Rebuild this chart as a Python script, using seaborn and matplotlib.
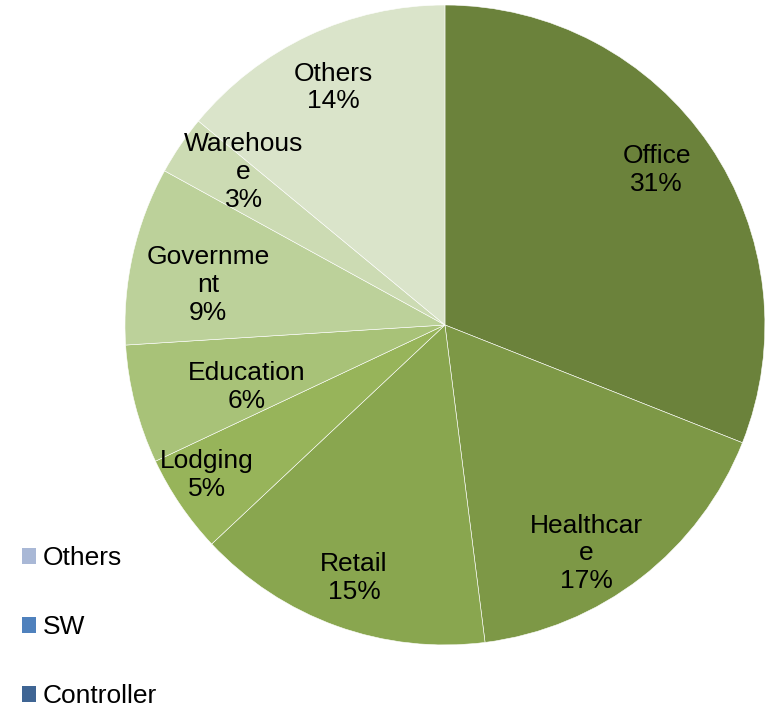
import numpy as np
import matplotlib
matplotlib.use("Agg")
import matplotlib.pyplot as plt
import seaborn as sns
from matplotlib.patches import Patch

sns.set_style("white")
plt.rcParams['font.family'] = ['Liberation Sans', 'DejaVu Sans']
plt.rcParams['text.color'] = 'black'

# data (clockwise from 12 o'clock)
labels = ["Office", "Healthcar\ne", "Retail", "Lodging", "Education",
          "Governme\nnt", "Warehous\ne", "Others"]
shares = [31, 17, 15, 5, 6, 9, 3, 14]
colors = ["#6B823B", "#7D9846", "#89A64F", "#97B45A", "#A8C278",
          "#BCD19A", "#CCDBB3", "#DAE4CA"]
# where each label sits, as a fraction of the radius
label_r = [0.82, 0.84, 0.84, 0.88, 0.65, 0.75, 0.79, 0.82]
label_shift = [2, -6, 0, -2, 3, 3, -3, 0]  # small angle nudges, degrees

legend_names = ["Others", "SW", "Controller"]
legend_colors = ["#A9B8D6", "#4F81BD", "#3F6594"]

fig = plt.figure(figsize=(7.71, 7.08), dpi=100)
ax = fig.add_axes([0.1621, 0.089, 0.830, 0.904])

wedges, _ = ax.pie(shares, colors=colors, startangle=90, counterclock=False,
                   wedgeprops=dict(edgecolor="white", linewidth=0.4))

for w, lab, s, r, d in zip(wedges, labels, shares, label_r, label_shift):
    mid = np.deg2rad((w.theta1 + w.theta2) / 2 + d)
    ax.text(r * np.cos(mid), r * np.sin(mid), f"{lab}\n{s}%",
            ha="center", va="center", fontsize=19, linespacing=1.2)

ax.set_xlim(-1, 1)
ax.set_ylim(-1, 1)
ax.set_aspect("equal")
ax.axis("off")

handles = [Patch(facecolor=c, edgecolor="none") for c in legend_colors]
fig.legend(handles, legend_names, loc="upper left",
           bbox_to_anchor=(0.011, 0.247), frameon=False, fontsize=19,
           handlelength=0.55, handleheight=0.55, handletextpad=0.25,
           labelspacing=1.7, borderpad=0)

fig.savefig("out.png", dpi=100)
